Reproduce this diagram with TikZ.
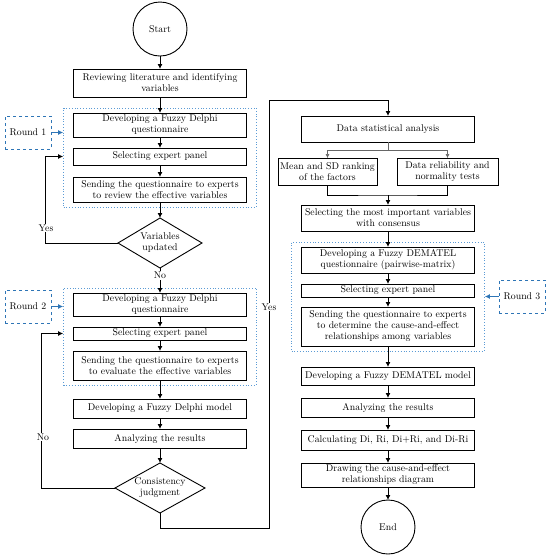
\documentclass[tikz,border=0pt]{standalone}
\usetikzlibrary{positioning, arrows.meta, shapes.geometric, fit, calc}
\definecolor{dotblue}{RGB}{91,155,213}
\definecolor{roundblue}{RGB}{46,117,182}

\begin{document}
\begin{tikzpicture}[
    x=1pt, y=-1pt,
    font=\fontsize{9.8}{11}\selectfont,
    block/.style={draw, rectangle, line width=0.9pt, minimum width=173pt,
                  inner sep=1pt, outer sep=0pt, align=center},
    term/.style={draw, circle, line width=0.9pt, minimum size=54pt, inner sep=0pt, outer sep=0pt},
    decision/.style={draw, diamond, aspect=1.75, line width=0.9pt, inner sep=0pt,
                     outer sep=0pt, align=center},
    dotbox/.style={draw=dotblue, dotted, line width=0.8pt, inner xsep=10pt, inner ysep=5pt},
    roundbox/.style={draw=roundblue, dashed, line width=1pt, minimum width=46pt,
                     minimum height=33pt},
    arrow/.style={-{Latex[length=5pt,width=5pt]}, line width=0.9pt},
    thinarrow/.style={-{Latex[length=4pt,width=4pt]}, line width=0.5pt},
    roundarrow/.style={-{Latex[length=5pt,width=5pt]}, draw=roundblue, line width=0.9pt},
    lbl/.style={fill=white, inner sep=1pt}
]
\useasboundingbox (0,0) rectangle (550,558);

% left column: Fuzzy Delphi
\node[term] (start) at (160,29) {Start};
\node[block, below=13pt of start, minimum height=28pt] (review) {Reviewing literature and identifying\\variables};
\node[block, below=16pt of review, minimum height=24pt] (devq1) {Developing a Fuzzy Delphi\\questionnaire};
\node[block, below=11pt of devq1, minimum height=17pt] (panel1) {Selecting expert panel};
\node[block, below=12pt of panel1, minimum height=25pt] (send1) {Sending the questionnaire to experts\\to review the effective variables};
\node[decision, below=16pt of send1, minimum width=84pt, minimum height=50pt] (update) {Variables\\updated};
\node[block, below=25pt of update, minimum height=23pt] (devq2) {Developing a Fuzzy Delphi\\questionnaire};
\node[block, below=11pt of devq2, minimum height=13pt] (panel2) {Selecting expert panel};
\node[block, below=11pt of panel2, minimum height=29pt] (send2) {Sending the questionnaire to experts\\to evaluate the effective variables};
\node[block, below=19pt of send2, minimum height=19pt] (delphi) {Developing a Fuzzy Delphi model};
\node[block, below=11pt of delphi, minimum height=19pt] (analyze1) {Analyzing the results};
\node[decision, below=15pt of analyze1, minimum width=90pt, minimum height=50pt] (consist) {Consistency\\judgment};

% right column: Fuzzy DEMATEL
\node[block, minimum height=26pt] (stats) at (388,129) {Data statistical analysis};
\node[block, minimum width=99pt, minimum height=27pt] (mean) at (327.5,171.5) {Mean and SD ranking\\of the factors};
\node[block, minimum width=101pt, minimum height=27pt] (reliab) at (447.5,171.5) {Data reliability and\\normality tests};
\node[block, minimum height=26pt] (selvar) at (388,218) {Selecting the most important variables\\with consensus};
\node[block, below=16pt of selvar, minimum height=26pt] (devq3) {Developing a Fuzzy DEMATEL\\questionnaire (pairwise-matrix)};
\node[block, below=11pt of devq3, minimum height=13pt] (panel3) {Selecting expert panel};
\node[block, below=10pt of panel3, minimum height=39pt] (send3) {Sending the questionnaire to experts\\to determine the cause-and-effect\\relationships among variables};
\node[block, below=21pt of send3, minimum height=18pt] (dematel) {Developing a Fuzzy DEMATEL model};
\node[block, below=13pt of dematel, minimum height=19pt] (analyze2) {Analyzing the results};
\node[block, below=13pt of analyze2, minimum height=20pt] (calc) {Calculating Di, Ri, Di+Ri, and Di-Ri};
\node[block, below=13pt of calc, minimum height=24pt] (diagram) {Drawing the cause-and-effect\\relationships diagram};
\node[term, below=13pt of diagram] (end) {End};

% rounds
\node[dotbox, fit=(devq1)(send1)] (round1box) {};
\node[dotbox, fit=(devq2)(send2)] (round2box) {};
\node[dotbox, fit=(devq3)(send3)] (round3box) {};
\node[roundbox] (round1) at (28,132.5) {Round 1};
\node[roundbox] (round2) at (28,306.5) {Round 2};
\node[roundbox] (round3) at (522,296.5) {Round 3};
\draw[roundarrow] (round1) -- (round1 -| round1box.west);
\draw[roundarrow] (round2) -- (round2 -| round2box.west);
\draw[roundarrow] (round3) -- (round3 -| round3box.east);

% left flow
\draw[arrow] (start) -- (review);
\draw[arrow] (review) -- (devq1);
\draw[arrow] (devq1) -- (panel1);
\draw[arrow] (panel1) -- (send1);
\draw[arrow] (send1) -- (update);
\draw[arrow] (update) -- node[lbl, pos=0.3] (no1) {No} (devq2);
\draw[arrow] (devq2) -- (panel2);
\draw[arrow] (panel2) -- (send2);
\draw[arrow] (send2) -- (delphi);
\draw[arrow] (delphi) -- (analyze1);
\draw[arrow] (analyze1) -- (consist);
\draw[arrow] (update.west) -- ++(-73,0) |- (panel1 -| round1box.west);
\draw[arrow] (consist.west) -- ++(-74,0) |- (panel2 -| round2box.west);
\coordinate (yesturn) at (269,100);
\draw[arrow] (consist.south) -- ++(0,15) -| (yesturn) -| (stats.north);
\node[lbl] (yes1) at (46,228) {Yes};
\node[lbl] (no2) at (43,437) {No};
\node[lbl] (yes2) at (269,307) {Yes};

% right flow
\coordinate (split) at ($(stats.south)!0.5!(stats.south |- mean.north)$);
\draw[black!60, line width=0.5pt] (stats) -- (split);
\draw[thinarrow, black!60] (split) -| (mean.north);
\draw[thinarrow, black!60] (split) -| (reliab.north);
\coordinate (merge) at ($(mean.south -| stats)!0.5!(selvar.north)$);
\draw[line width=0.9pt] (mean.south) |- (merge) -| (reliab.south);
\draw[arrow] (merge) -- (selvar);
\draw[arrow] (selvar) -- (devq3);
\draw[arrow] (devq3) -- (panel3);
\draw[arrow] (panel3) -- (send3);
\draw[arrow] (send3) -- (dematel);
\draw[arrow] (dematel) -- (analyze2);
\draw[arrow] (analyze2) -- (calc);
\draw[arrow] (calc) -- (diagram);
\draw[arrow] (diagram) -- (end);
\end{tikzpicture}
\end{document}
